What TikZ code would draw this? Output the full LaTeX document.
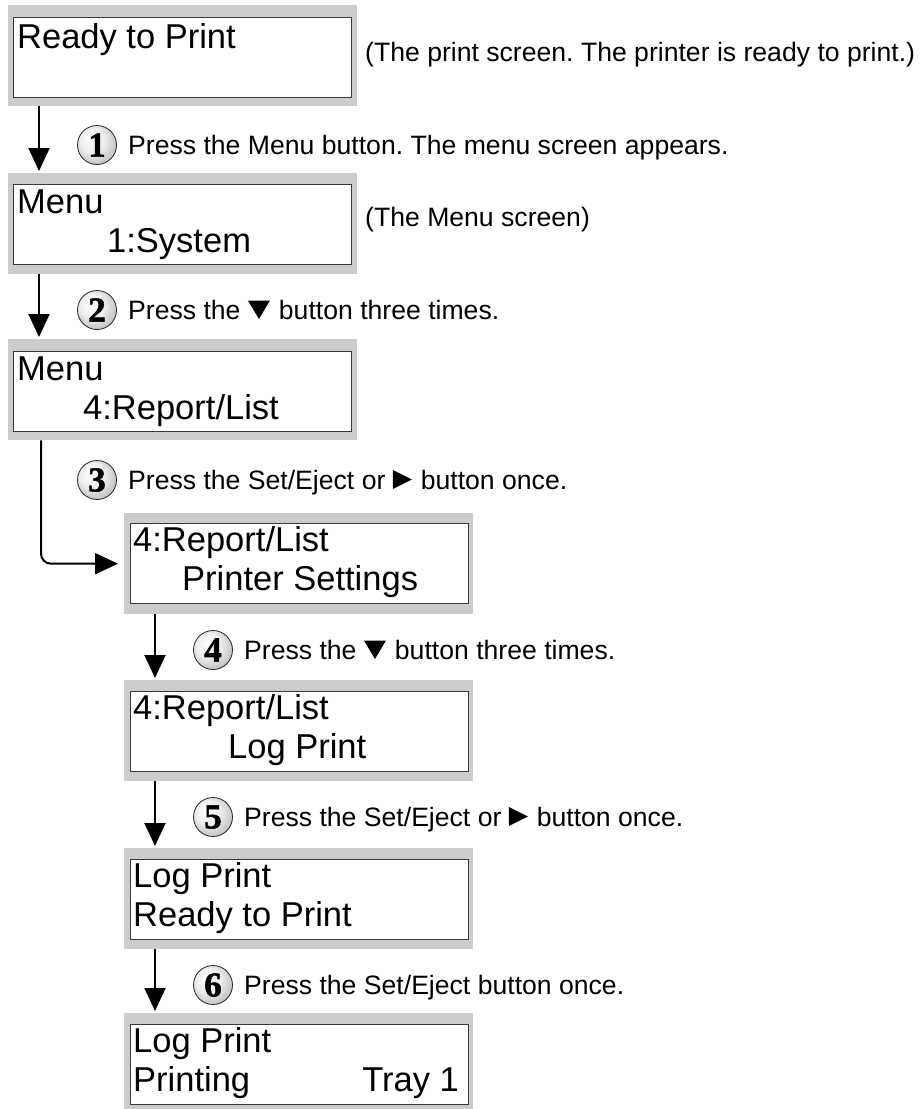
\documentclass[tikz,border=0pt]{standalone}
\usepackage{fontspec}
\setmainfont{Liberation Sans}
\newfontfamily\numfont[FakeBold=1.5]{Liberation Serif}
\usetikzlibrary{arrows.meta}
\frenchspacing
\definecolor{panelgray}{HTML}{CCCCCC}
\definecolor{screenedge}{HTML}{3A3A3A}
\pgfdeclareradialshading{stepball}{\pgfpoint{-9bp}{9bp}}{%
  color(0bp)=(white); color(16bp)=(white!93!black); color(34bp)=(black!30);
  color(44bp)=(black!55); color(50bp)=(black!65)}
\newcommand{\lcdsize}{\fontsize{34.5}{40}\selectfont}
\newcommand{\stepsize}{\fontsize{26.6}{30}\selectfont}
\newcommand{\dn}{\tikz[baseline=0pt,x=1pt,y=1pt]\fill (0,18.5)--(22,18.5)--(11,0)--cycle;}
\newcommand{\rt}{\tikz[baseline=0pt,x=1pt,y=1pt]\fill (0,0)--(0,19)--(19,9.5)--cycle;}
\begin{document}
\begin{tikzpicture}[x=1pt,y=-1pt,
  frame/.style={fill=panelgray, draw=none, inner sep=0pt, anchor=north west, minimum width=349pt, minimum height=101pt},
  screen/.style={fill=white, draw=screenedge, line width=1.3pt, inner sep=0pt, anchor=north west, minimum width=338pt, minimum height=80pt},
  lcd/.style={anchor=base west, inner sep=0pt, font=\lcdsize},
  steptext/.style={anchor=base west, inner sep=0pt, font=\stepsize},
  caption/.style={anchor=base west, inner sep=0pt, font=\stepsize},
  flow/.style={line width=2pt, -{Triangle[length=23pt,width=21pt]}},
  ball/.style={circle, minimum size=39pt, inner sep=0pt, shading=stepball, draw=black!85, line width=0.8pt, font=\numfont\bfseries\fontsize{35}{35}\selectfont}
]
\useasboundingbox (0,0) rectangle (919,1109);

% screens
\node[frame] (f1) at (8,5) {};
\node[screen] (s1) at (13,17) {};
\node[frame] (f2) at (8,173) {};
\node[screen] (s2) at (13,184) {};
\node[frame] (f3) at (8,339) {};
\node[screen] (s3) at (13,351) {};
\node[frame] (f4) at (124,513) {};
\node[screen] (s4) at (130,523) {};
\node[frame] (f5) at (124,680) {};
\node[screen] (s5) at (130,691) {};
\node[frame] (f6) at (124,848) {};
\node[screen] (s6) at (130,859) {};
\node[frame, minimum height=96pt] (f7) at (124,1013) {};
\node[screen] (s7) at (130,1024) {};

% screen texts
\node[lcd] (l1a) at (17,48) {Ready to Print};
\node[lcd] (l2a) at (17,213) {Menu};
\node[lcd] (l2b) at (107,252) {1:System};
\node[lcd] (l3a) at (17,380) {Menu};
\node[lcd] (l3b) at (83,419) {4:Report/List};
\node[lcd] (l4a) at (133,551) {4:Report/List};
\node[lcd] (l4b) at (182,590) {Printer Settings};
\node[lcd] (l5a) at (133,719) {4:Report/List};
\node[lcd] (l5b) at (228,758) {Log Print};
\node[lcd] (l6a) at (133,887) {Log Print};
\node[lcd] (l6b) at (133,926) {Ready to Print};
\node[lcd] (l7a) at (133,1052) {Log Print};
\node[lcd] (l7b) at (133,1091) {Printing};
\node[lcd, anchor=base east] (l7c) at (459,1091) {Tray 1};

% captions
\node[caption] (cap1) at (365,61) {(The print screen. The printer is ready to print.)};
\node[caption] (cap2) at (365,226) {(The Menu screen)};

% connectors
\draw[flow] ([xshift=31pt]f1.south west) -- ([xshift=31pt,yshift=2pt]f2.north west);
\draw[flow] ([xshift=31pt]f2.south west) -- ([xshift=31pt,yshift=2pt]f3.north west);
\draw[flow, rounded corners=10pt] ([xshift=33pt]f3.south west) |- ([xshift=-6pt]f4.west);
\draw[flow] ([xshift=31pt]f4.south west) -- ([xshift=31pt,yshift=2pt]f5.north west);
\draw[flow] ([xshift=31pt]f5.south west) -- ([xshift=31pt,yshift=2pt]f6.north west);
\draw[flow] ([xshift=31pt]f6.south west) -- ([xshift=31pt,yshift=2pt]f7.north west);

% steps
\node[ball] (c1) at (97,145) {1};
\node[steptext] (t1) at (128,154) {Press the Menu button. The menu screen appears.};
\node[ball] (c2) at (97,310) {2};
\node[steptext] (t2) at (128,319) {Press the \dn\hspace{9pt}button three times.};
\node[ball] (c3) at (97,480) {3};
\node[steptext] (t3) at (128,489) {Press the Set/Eject or \rt\hspace{9pt}button once.};
\node[ball] (c4) at (213,650) {4};
\node[steptext] (t4) at (244,659) {Press the \dn\hspace{9pt}button three times.};
\node[ball] (c5) at (213,817) {5};
\node[steptext] (t5) at (244,826) {Press the Set/Eject or \rt\hspace{9pt}button once.};
\node[ball] (c6) at (213,985) {6};
\node[steptext] (t6) at (244,994) {Press the Set/Eject button once.};
\end{tikzpicture}
\end{document}
